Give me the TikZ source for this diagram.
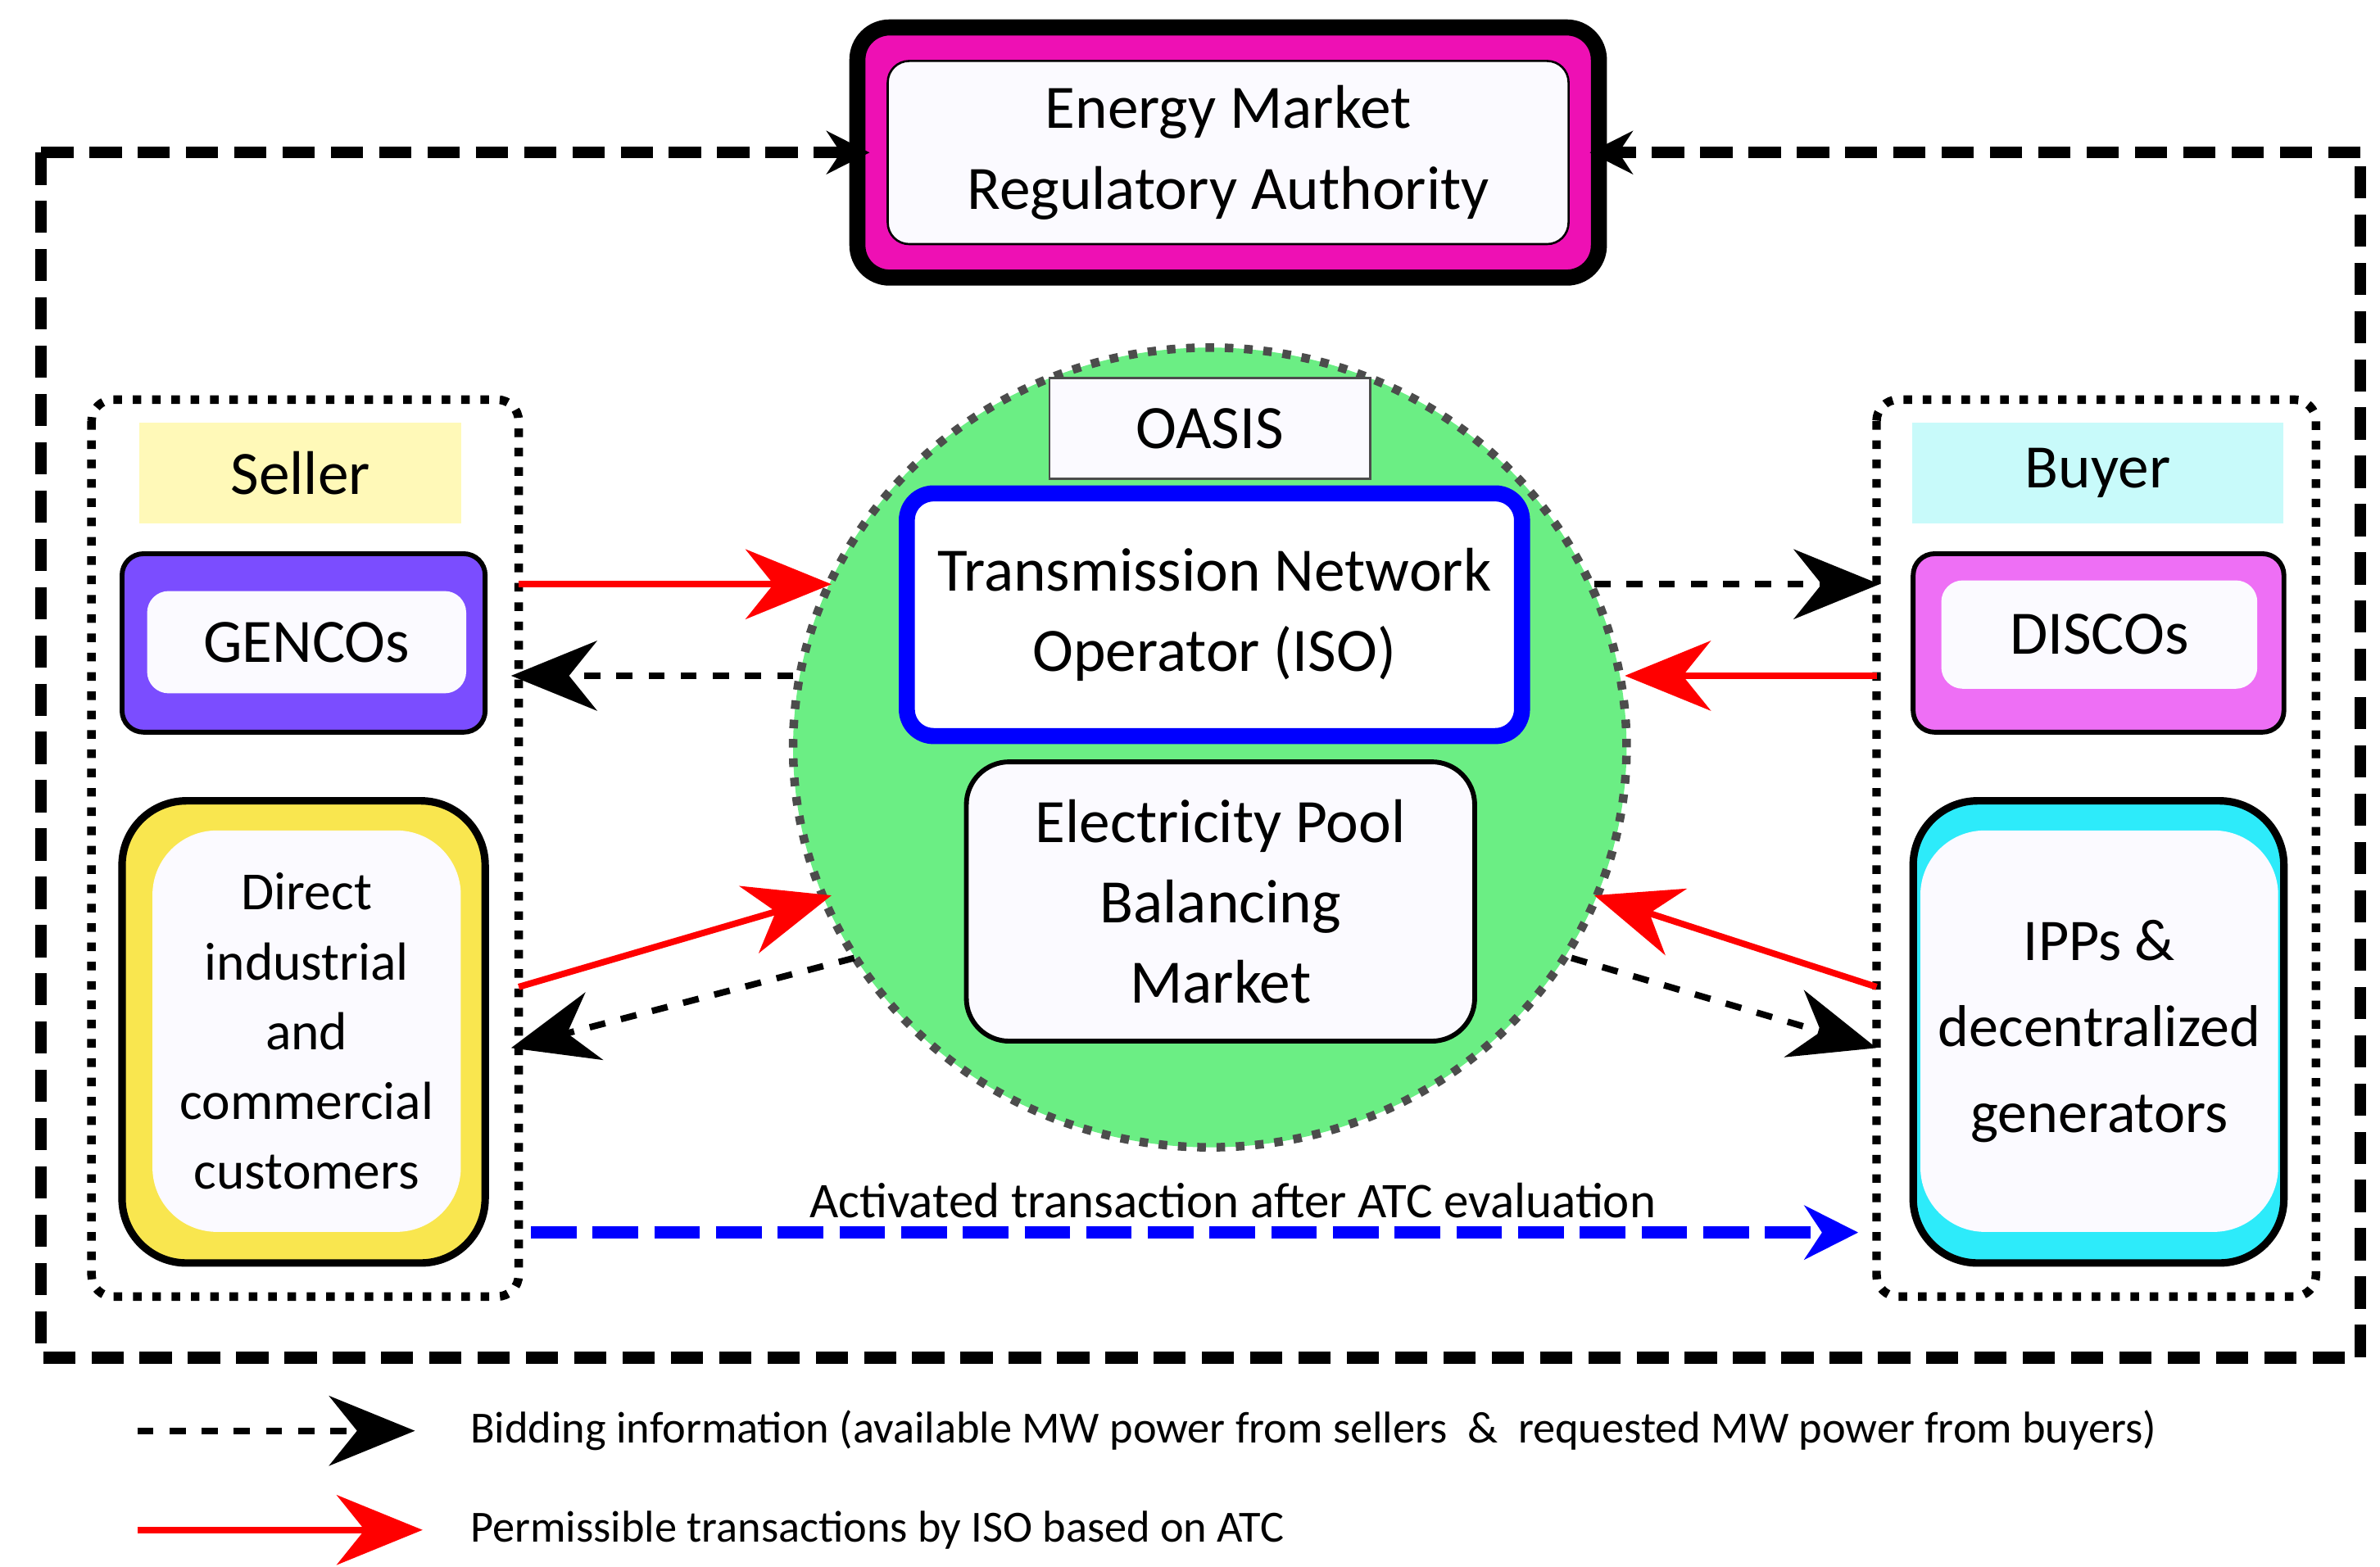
\documentclass[tikz,border=0pt]{standalone}
\usepackage{fontspec}
\setmainfont{Carlito}
\usetikzlibrary{arrows.meta,shapes.geometric}
\definecolor{emra}{HTML}{EE10B4}
\definecolor{sellerY}{HTML}{FFF9B8}
\definecolor{buyerC}{HTML}{C8FAFA}
\definecolor{genP}{HTML}{7B4DFF}
\definecolor{discP}{HTML}{EE6FF5}
\definecolor{dirY}{HTML}{F9E64F}
\definecolor{ippC}{HTML}{2DEBFA}
\definecolor{oasisG}{HTML}{6BEE84}
\definecolor{inner}{HTML}{FBFAFF}
\begin{document}
\begin{tikzpicture}[x=0.01cm,y=-0.01cm,
  box/.style={draw,rounded corners=4pt,line width=0.9pt,align=center},
  inbox/.style={fill=inner,rounded corners=4pt,align=center},
  red arrow/.style={red,line width=1.2pt,-{Stealth[length=16pt,width=13pt]}},
  blk arrow/.style={black,line width=1.2pt,dashed,-{Stealth[length=16pt,width=13pt]}},
  frame/.style={line width=2.2pt,dash pattern=on 6pt off 3pt},
  bigfont/.style={font=\fontsize{11.5}{15}\selectfont}]
\useasboundingbox (0,0) rectangle (1560,1027);
% outer dashed frame
\coordinate (fl) at (27,100);
\coordinate (fr) at (1547,100);
\draw[frame] (fl) -- (27,890) -- (1547,890) -- (fr);
% regulator
\draw[fill=emra,line width=3pt,rounded corners=6pt] (562,18) rectangle (1048,182);
\node[draw,fill=inner,rounded corners=4pt,minimum width=4.46cm,minimum height=1.2cm,align=center,bigfont] (emra) at (805,100) {Energy Market\\Regulatory Authority};
\draw[frame,-{Stealth[length=8pt,width=8pt]}] (fl) -- (570,100);
\draw[frame,-{Stealth[length=8pt,width=8pt]}] (fr) -- (1042,100);
% seller side
\draw[line width=1.6pt,dotted,rounded corners=4pt] (60,262) rectangle (340,850);
\node[fill=sellerY,minimum width=2.11cm,minimum height=0.66cm,bigfont] (seller) at (197,310) {Seller};
\draw[box,fill=genP] (80,363) rectangle (318,480);
\node[inbox,minimum width=2.09cm,minimum height=0.67cm,bigfont] (gen) at (201,421) {GENCOs};
\draw[box,fill=dirY,line width=1.4pt,rounded corners=12pt] (80,525) rectangle (318,828);
\node[inbox,rounded corners=12pt,minimum width=2.02cm,minimum height=2.63cm,font=\fontsize{10}{13}\selectfont] (dir) at (201,676) {Direct\\industrial\\and\\commercial\\customers};
% buyer side
\draw[line width=1.6pt,dotted,rounded corners=4pt] (1230,262) rectangle (1518,850);
\node[fill=buyerC,minimum width=2.43cm,minimum height=0.66cm,bigfont] (buyer) at (1375,310) {Buyer};
\draw[box,fill=discP] (1254,363) rectangle (1497,480);
\node[inbox,minimum width=2.07cm,minimum height=0.71cm,bigfont] (disc) at (1376,416) {DISCOs};
\draw[box,fill=ippC,line width=1.4pt,rounded corners=12pt] (1254,525) rectangle (1497,828);
\node[inbox,rounded corners=12pt,minimum width=2.06cm,minimum height=2.63cm,font=\fontsize{11}{16}\selectfont] (ipp) at (1376,676) {IPPs \&\\decentralized\\generators};
% central pool
\node[ellipse,draw=black!70,line width=1.6pt,dotted,fill=oasisG,minimum width=5.46cm,minimum height=5.24cm] (pool) at (793,490) {};
\node[draw=black!70,fill=inner,minimum width=2.1cm,minimum height=0.66cm,bigfont] (oasis) at (793,281) {OASIS};
\node[draw=blue,line width=3pt,fill=white,rounded corners=5pt,minimum width=4.03cm,minimum height=1.59cm,align=center,bigfont] (tno) at (796,403) {Transmission Network\\Operator (ISO)};
\node[box,fill=inner,rounded corners=8pt,minimum width=3.33cm,minimum height=1.83cm,bigfont] (pool2) at (800,591) {Electricity Pool\\Balancing\\Market};
% flows
\coordinate (a1) at (340,383); \coordinate (a2) at (545,383);
\coordinate (b1) at (520,443); \coordinate (b2) at (335,443);
\coordinate (c1) at (340,647); \coordinate (c2) at (545,587);
\coordinate (d1) at (560,628); \coordinate (d2) at (335,687);
\coordinate (e1) at (1045,383); \coordinate (e2) at (1232,383);
\coordinate (f1) at (1230,443); \coordinate (f2) at (1065,443);
\coordinate (g1) at (1230,647); \coordinate (g2) at (1045,587);
\coordinate (h1) at (1030,628); \coordinate (h2) at (1230,687);
\draw[red arrow] (a1) -- (a2);
\draw[blk arrow] (b1) -- (b2);
\draw[red arrow] (c1) -- (c2);
\draw[blk arrow] (d1) -- (d2);
\draw[blk arrow] (e1) -- (e2);
\draw[red arrow] (f1) -- (f2);
\draw[red arrow] (g1) -- (g2);
\draw[blk arrow] (h1) -- (h2);
\coordinate (t1) at (348,808); \coordinate (t2) at (1218,808);
\draw[blue,line width=2.2pt,dash pattern=on 8.5pt off 3pt,-{Stealth[length=10pt,width=10pt]}] (t1) -- (t2);
\node[font=\fontsize{9.3}{12}\selectfont] (act) at (808,787) {Activated transaction after ATC evaluation};
% legend
\coordinate (l1) at (90,938); \coordinate (l2) at (272,938);
\coordinate (m1) at (90,1003); \coordinate (m2) at (277,1003);
\draw[blk arrow] (l1) -- (l2);
\draw[red arrow] (m1) -- (m2);
\node[anchor=west,font=\fontsize{8.3}{10}\selectfont] (lb) at (296,938) {Bidding information (available MW power from sellers~~\&~~requested MW power from buyers)};
\node[anchor=west,font=\fontsize{8.3}{10}\selectfont] (lr) at (296,1003) {Permissible transactions by ISO based on ATC};
\end{tikzpicture}
\end{document}
